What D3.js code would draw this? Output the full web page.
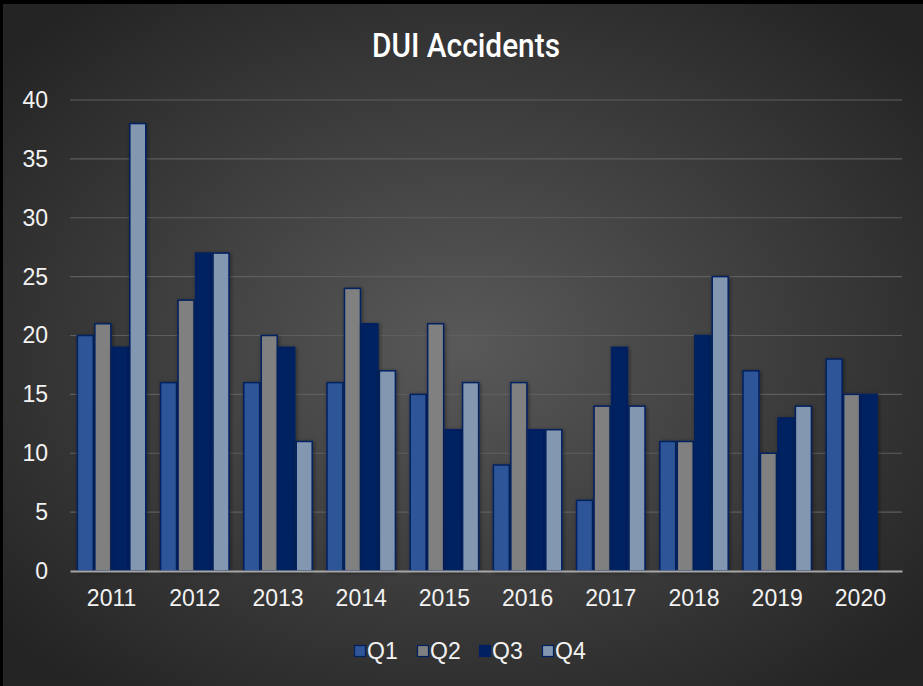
<!DOCTYPE html>
<html>
<head>
<meta charset="utf-8">
<script src="https://cdn.jsdelivr.net/npm/d3@7"></script>
<style>
  html, body { margin: 0; padding: 0; background: #000; }
  svg { display: block; }
</style>
</head>
<body>
<div id="chart"></div>
<script>
// data
var years = ["2011","2012","2013","2014","2015","2016","2017","2018","2019","2020"];
var quarters = ["Q1","Q2","Q3","Q4"];
var q1 = [20,16,16,16,15,9,6,11,17,18];
var q2 = [21,23,20,24,21,16,14,11,10,15];
var q3 = [19,27,19,21,12,12,19,20,13,15];
var q4 = [38,27,11,17,16,12,14,25,14,null];
var yTicks = [0,5,10,15,20,25,30,35,40];
var colors = ["#2f5597","#808080","#002060","#8497b0"];

var W = 923, H = 686;
var margin = {top: 100, right: 21, bottom: 115, left: 70};
var w = W - margin.left - margin.right,
    h = H - margin.top - margin.bottom;
var labelFont = "'Liberation Sans', Arial, sans-serif";

var svg = d3.select("#chart").append("svg")
  .attr("width", W).attr("height", H);

// background gradient
var defs = svg.append("defs");
var grad = defs.append("radialGradient").attr("id", "bg")
  .attr("cx", "50%").attr("cy", "50%").attr("r", "65%");
grad.append("stop").attr("offset", "0%").attr("stop-color", "#595959");
grad.append("stop").attr("offset", "100%").attr("stop-color", "#242424");

var shadow = defs.append("filter").attr("id", "shadow")
  .attr("x", "-30%").attr("y", "-10%").attr("width", "160%").attr("height", "120%");
shadow.append("feDropShadow").attr("dx", 1).attr("dy", 1).attr("stdDeviation", 2)
  .attr("flood-color", "#000").attr("flood-opacity", 0.45);

svg.append("rect").attr("width", W).attr("height", H).attr("fill", "#000");
svg.append("rect").attr("x", 3).attr("y", 4).attr("width", W - 3).attr("height", H - 4)
  .attr("fill", "url(#bg)");

// title (condensed look)
svg.append("text")
  .attr("x", 372).attr("y", 57)
  .attr("fill", "#fff")
  .attr("font-family", "Roboto, 'Liberation Sans', sans-serif")
  .attr("font-weight", 500)
  .attr("font-size", "33px")
  .attr("textLength", 188)
  .attr("lengthAdjust", "spacingAndGlyphs")
  .text("DUI Accidents");

var rows = years.map(function(y, i) {
  return {year: y, vals: [q1[i], q2[i], q3[i], q4[i]]};
});

var x0 = d3.scaleBand().domain(years).range([0, w]).paddingInner(0.16).paddingOuter(0.08);
var x1 = d3.scaleBand().domain(quarters).range([0, x0.bandwidth()]);
var y = d3.scaleLinear().domain([0, 40]).range([h, 0]);

var g = svg.append("g").attr("transform", "translate(" + margin.left + "," + margin.top + ")");

// gridlines
g.append("g").selectAll("line")
  .data(yTicks.filter(function(d) { return d > 0; }))
  .enter().append("line")
  .attr("x1", 0).attr("x2", w)
  .attr("y1", function(d) { return y(d); })
  .attr("y2", function(d) { return y(d); })
  .attr("stroke", "#5e5e5e").attr("stroke-width", 1.2);

// y axis labels
var yAxis = d3.axisLeft(y).tickValues(yTicks).tickSize(0).tickPadding(22);
var ya = g.append("g").call(yAxis);
ya.select(".domain").remove();
ya.selectAll("text")
  .attr("fill", "#f2f2f2")
  .attr("font-family", labelFont)
  .attr("font-size", "23px");

// bars
var groups = g.selectAll(".grp").data(rows).enter().append("g")
  .attr("class", "grp")
  .attr("transform", function(d) { return "translate(" + x0(d.year) + ",0)"; });

groups.selectAll("rect")
  .data(function(d) {
    return d.vals.map(function(v, k) { return {q: quarters[k], v: v, k: k}; })
      .filter(function(e) { return e.v != null; });
  })
  .enter().append("rect")
  .attr("x", function(d) { return x1(d.q) + 0.75; })
  .attr("y", function(d) { return y(d.v); })
  .attr("width", x1.bandwidth() - 1.5)
  .attr("height", function(d) { return h - y(d.v); })
  .attr("fill", function(d) { return colors[d.k]; })
  .attr("stroke", "#002060")
  .attr("stroke-width", 1.5)
  .attr("filter", "url(#shadow)");

// x axis
var xAxis = d3.axisBottom(x0).tickSize(0).tickPadding(19);
var xa = g.append("g").attr("transform", "translate(0," + h + ")").call(xAxis);
xa.select(".domain").attr("stroke", "#a6a6a6").attr("stroke-width", 2);
xa.selectAll("text")
  .attr("fill", "#f2f2f2")
  .attr("font-family", labelFont)
  .attr("font-size", "23px");

// legend
var legend = svg.append("g").attr("transform", "translate(354,651)");
var lx = [0, 63, 125, 188];
quarters.forEach(function(q, k) {
  var it = legend.append("g").attr("transform", "translate(" + lx[k] + ",0)");
  it.append("rect").attr("x", 0.5).attr("y", -5.5).attr("width", 11).attr("height", 11)
    .attr("fill", colors[k]).attr("stroke", "#002060").attr("stroke-width", 1.2);
  it.append("text").attr("x", 13).attr("y", 8)
    .attr("fill", "#f2f2f2")
    .attr("font-family", labelFont)
    .attr("font-size", "23px")
    .text(q);
});
</script>
</body>
</html>
